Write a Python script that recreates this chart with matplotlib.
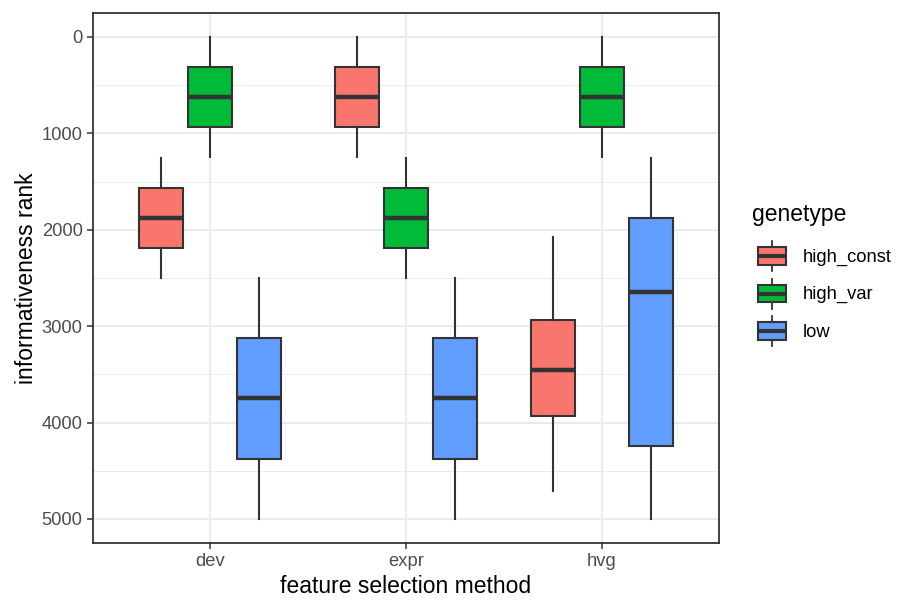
import matplotlib
matplotlib.use("Agg")
import matplotlib.pyplot as plt
from matplotlib.patches import Rectangle
from matplotlib.lines import Line2D
from matplotlib.legend_handler import HandlerBase
from matplotlib.ticker import MultipleLocator

plt.rcParams['font.family'] = ['Liberation Sans', 'DejaVu Sans']

methods = ["dev", "expr", "hvg"]
genetypes = ["high_const", "high_var", "low"]
colors = ["#F8766D", "#00BA38", "#619CFF"]

# five-number summaries per method: (whislo, q1, med, q3, whishi)
high_const = [(1251, 1563, 1875, 2188, 2500),
              (1, 313, 625, 938, 1250),
              (2070, 2940, 3454, 3935, 4715)]
high_var = [(1, 313, 625, 938, 1250),
            (1251, 1563, 1875, 2188, 2500),
            (1, 313, 625, 938, 1250)]
low = [(2501, 3126, 3750, 4375, 5000),
       (2501, 3126, 3750, 4375, 5000),
       (1252, 1878, 2645, 4246, 5000)]
series = [high_const, high_var, low]

edge = "#333333"
fig = plt.figure(figsize=(8.99, 6.01), dpi=100)
ax = fig.add_axes([93/899, 1-543/601, (719-93)/899, (543-13)/601])

dodge = 0.25
for gi, (vals, col) in enumerate(zip(series, colors)):
    stats = []
    pos = []
    for mi, v in enumerate(vals):
        stats.append(dict(whislo=v[0], q1=v[1], med=v[2], q3=v[3], whishi=v[4], fliers=[]))
        pos.append(mi + 1 + (gi - 1) * dodge)
    ax.bxp(stats, positions=pos, widths=0.225, patch_artist=True, showcaps=False,
           showfliers=False, manage_ticks=False,
           boxprops=dict(facecolor=col, edgecolor=edge, linewidth=1.5),
           whiskerprops=dict(color=edge, linewidth=1.5),
           medianprops=dict(color=edge, linewidth=3.2, solid_capstyle='butt'),
           zorder=3)

ax.set_xlim(0.4, 3.6)
ax.set_ylim(5250, -249)
ax.set_xticks([1, 2, 3])
ax.set_xticklabels(methods)
ax.yaxis.set_major_locator(MultipleLocator(1000))
ax.yaxis.set_minor_locator(MultipleLocator(500))
ax.grid(which='major', color='#EBEBEB', linewidth=1.4, zorder=0)
ax.grid(which='minor', axis='y', color='#EBEBEB', linewidth=0.7, zorder=0)
ax.set_axisbelow(True)
for s in ax.spines.values():
    s.set_color('#333333')
    s.set_linewidth(1.3)
ax.tick_params(which='major', length=4.5, width=1.1, color='#333333',
               labelsize=13.2, labelcolor='#4D4D4D', pad=3)
ax.tick_params(which='minor', length=0)
ax.set_xlabel("feature selection method", fontsize=16.5, color='black', labelpad=3)
ax.set_ylabel("informativeness rank", fontsize=16.5, color='black', labelpad=3)


class BoxHandler(HandlerBase):
    def __init__(self, color):
        super().__init__()
        self.color = color

    def create_artists(self, legend, orig_handle, xdescent, ydescent, width, height, fontsize, trans):
        cx = width / 2 - xdescent
        bw = 20.0
        bh = 12.3
        y0 = -ydescent
        cy = y0 + height / 2
        wl1 = Line2D([cx, cx], [y0, cy - bh / 2], color=edge, lw=1.3, transform=trans)
        wl2 = Line2D([cx, cx], [cy + bh / 2, y0 + height], color=edge, lw=1.3, transform=trans)
        rect = Rectangle((cx - bw / 2, cy - bh / 2), bw, bh, facecolor=self.color,
                         edgecolor=edge, lw=1.5, transform=trans)
        med = Line2D([cx - bw / 2, cx + bw / 2], [cy, cy], color=edge, lw=3.0,
                     solid_capstyle='butt', transform=trans)
        return [wl1, wl2, rect, med]


handles = [Rectangle((0, 0), 1, 1) for _ in genetypes]
handler_map = {h: BoxHandler(c) for h, c in zip(handles, colors)}
leg = fig.legend(handles, genetypes, handler_map=handler_map,
                 loc='upper left', bbox_to_anchor=(752/899, 1-241/601),
                 frameon=False, fontsize=13.2,
                 handlelength=2.18, handleheight=2.14,
                 handletextpad=0.6, labelspacing=0.41, borderpad=0, borderaxespad=0)
fig.text(752/899, 1-215/601, "genetype", fontsize=16.5, ha='left', va='center')

fig.savefig("out.png", dpi=100)
